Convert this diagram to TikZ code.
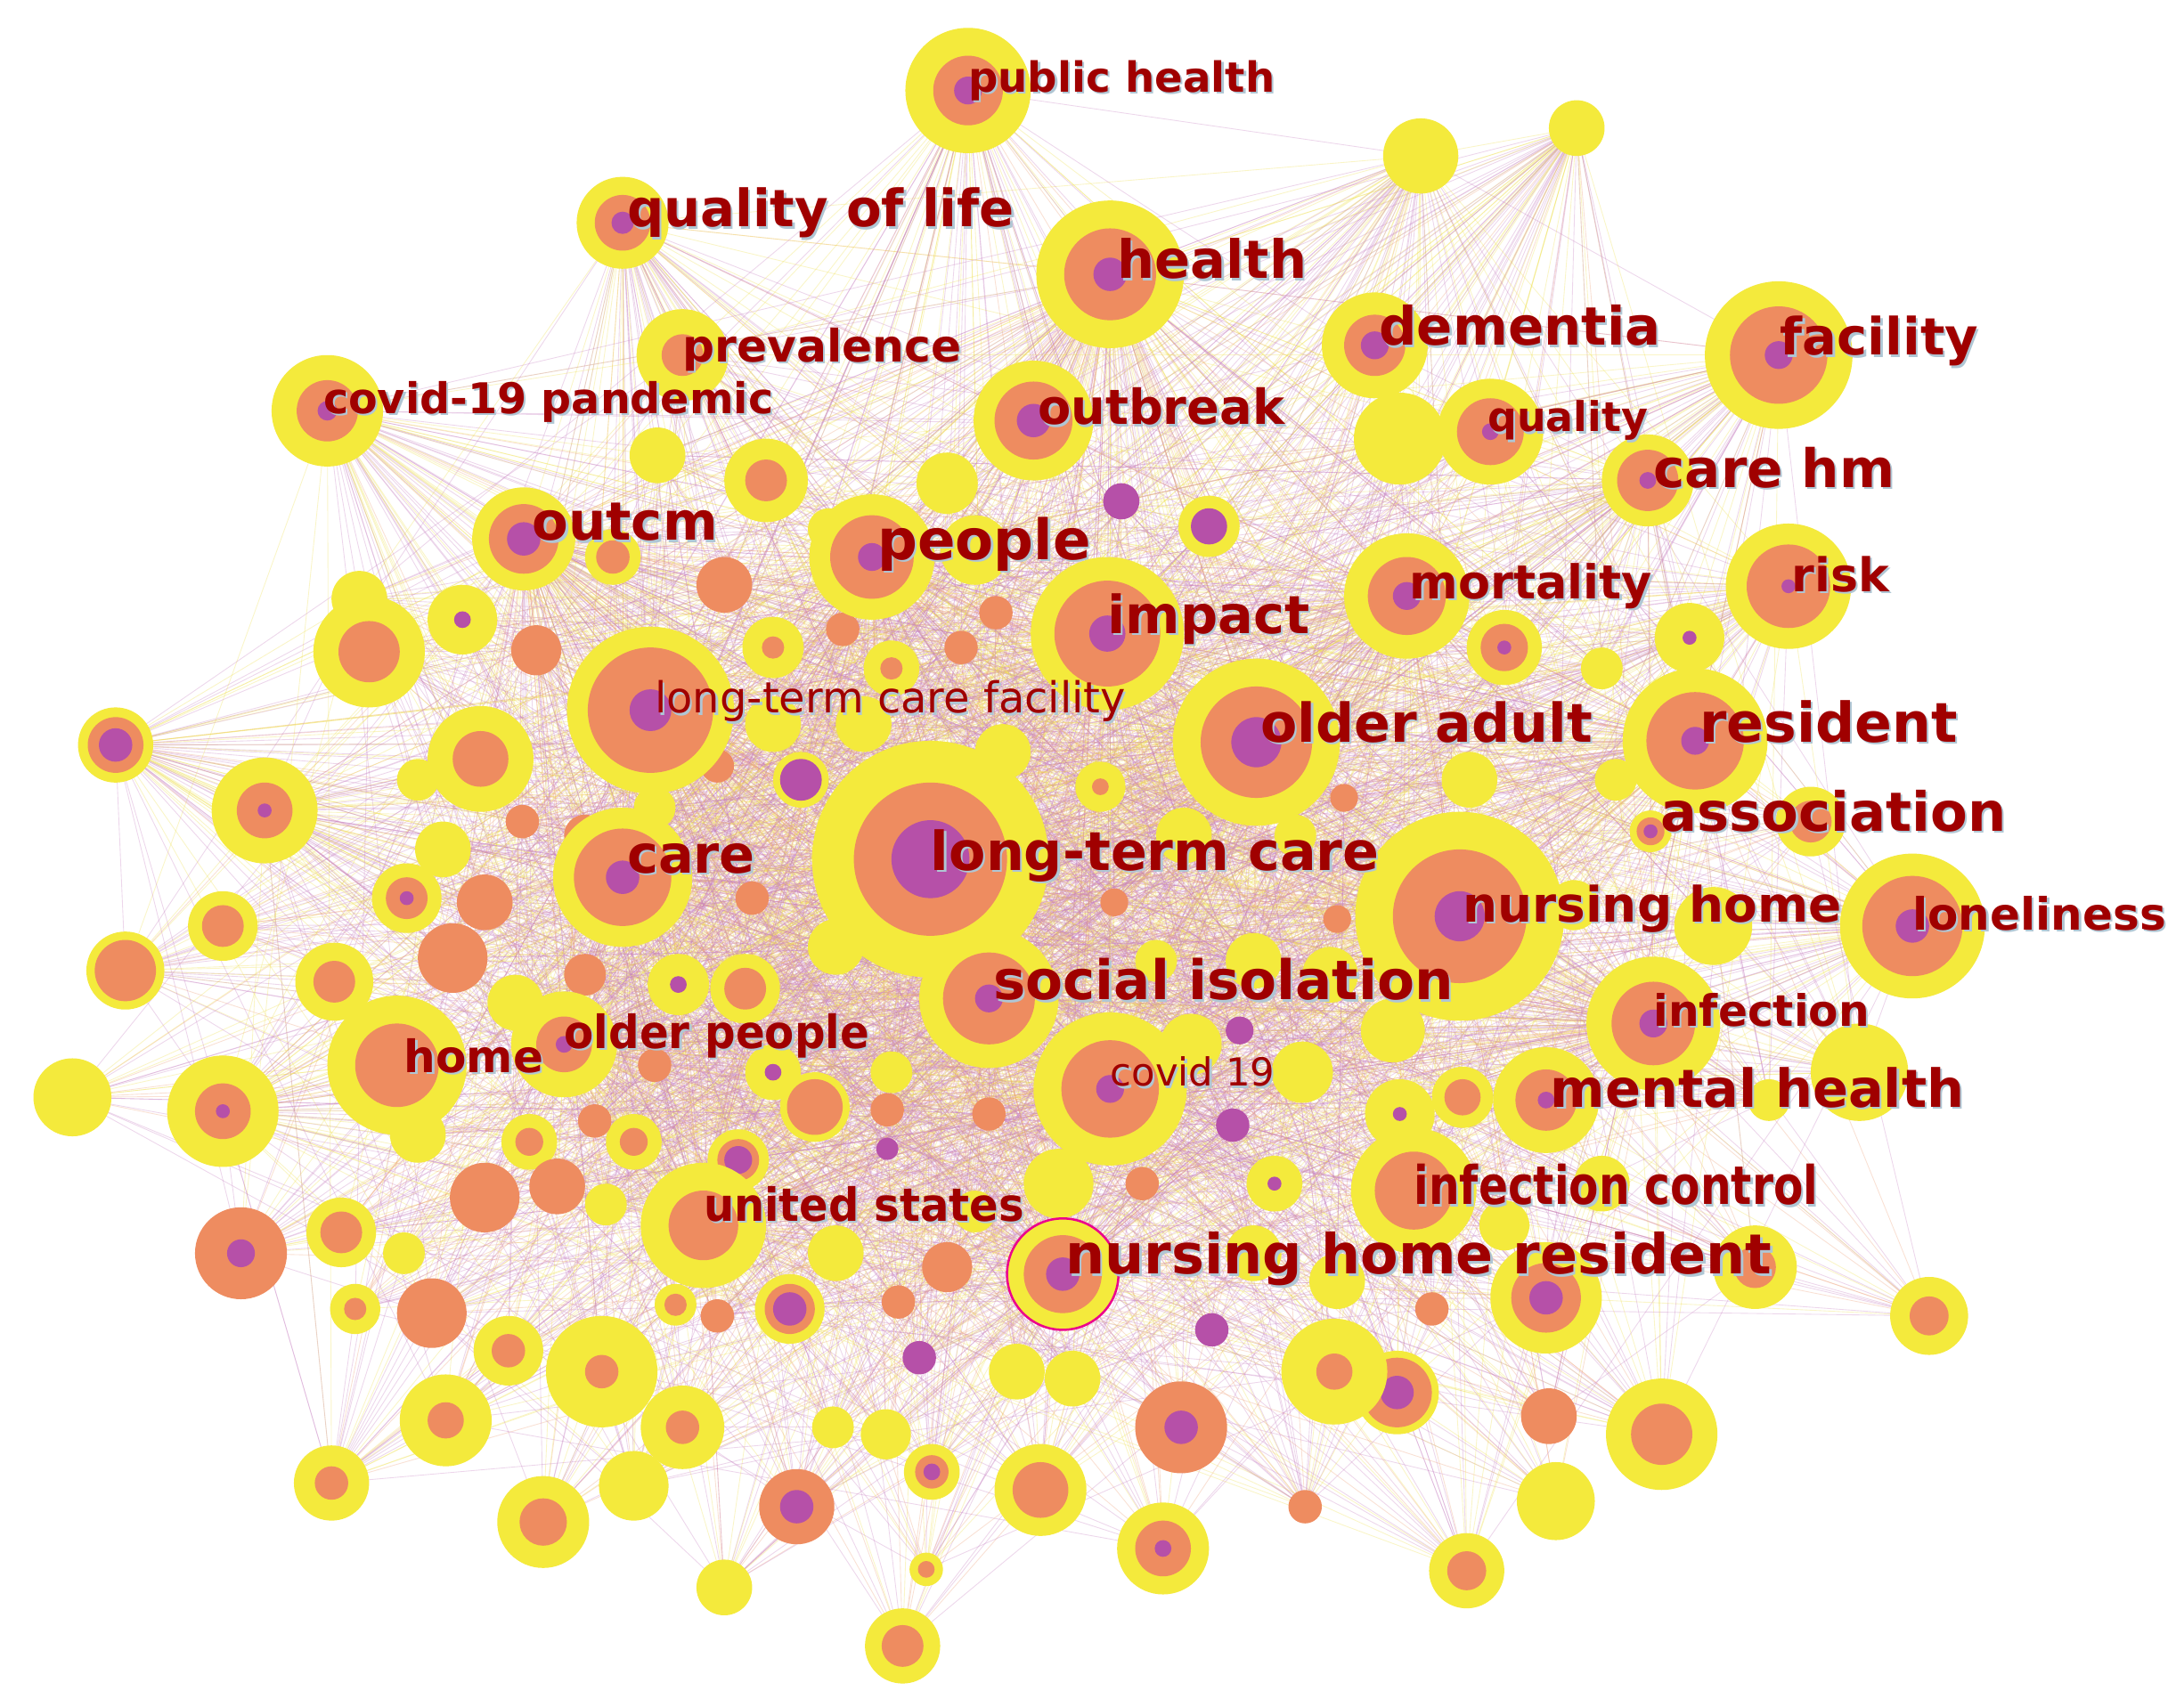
\documentclass[tikz,border=0pt]{standalone}
\usepackage{fontspec}
\setmainfont{DejaVu Sans}
\pgfdeclarelayer{paper}
\pgfdeclarelayer{edges}
\pgfsetlayers{paper,edges,main}
\definecolor{yel}{RGB}{244,234,60}
\definecolor{org}{RGB}{238,140,96}
\definecolor{pur}{RGB}{182,80,168}
\definecolor{lab}{RGB}{160,0,0}
\definecolor{shd}{RGB}{175,198,212}
\definecolor{epink}{RGB}{200,130,195}
\definecolor{eyel}{RGB}{240,226,80}
\definecolor{eorg}{RGB}{238,160,120}
\tikzset{
  kwnode/.style={circle,inner sep=0pt,outer sep=0pt},
  edge/.style={line width=0.55pt,opacity=0.32},
  lbl/.style={text=lab,inner sep=0pt,anchor=base west,font=\bfseries},
  lblshadow/.style={text=shd,inner sep=0pt,anchor=base west,font=\bfseries},
  hiring/.style={draw=magenta,line width=1.6pt}
}
\newcommand\kwbub[6]{%
  \pgfmathsetmacro\kwD{2*max(#4,#5,#6)}%
  \node[kwnode,minimum size=\kwD pt] (#1) at (#2,#3) {};
  \ifdim #4pt>0pt \fill[yel] (#1.center) circle (#4pt);\fi
  \ifdim #5pt>0pt \fill[org] (#1.center) circle (#5pt);\fi
  \ifdim #6pt>0pt \fill[pur] (#1.center) circle (#6pt);\fi
}
\newcommand\kwfit[3]{\ifdim #2pt>0pt \resizebox{#1pt}{#2pt}{#3}\else\resizebox{#1pt}{!}{#3}\fi}
\newcommand\kwlab[6]{%
  \node[lblshadow] at ({#2+1.5},{#3+1.5}) {\kwfit{#4}{#5}{#6}};
  \node[lbl] (#1) at (#2,#3) {\kwfit{#4}{#5}{#6}};
}
\begin{document}
\begin{tikzpicture}[x=1pt,y=-1pt]
\begin{pgfonlayer}{paper}
\fill[white] (0,0) rectangle (1568,1214);
\end{pgfonlayer}
\useasboundingbox (0,0) rectangle (1568,1214);
% unlabeled keyword nodes
\foreach \i/\X/\Y/\Ry/\Ro/\Rp in {
142/620/520/20/0/0, 143/720/540/20/0/0, 144/850/600/20/0/0, 145/930/600/15/0/0,
146/600/680/20/0/0, 147/900/690/20/0/0, 148/955/700/20/0/0, 149/830/690/15/0/0,
150/855/750/22/0/0, 151/935/770/22/0/0, 152/640/770/15/0/0, 153/760/850/25/0/0,
154/820/850/0/12/0, 155/700/870/15/0/0, 156/455/820/20/10/0, 157/380/820/20/10/0,
158/420/700/0/15/0, 159/370/720/20/0/0, 160/300/560/15/0/0, 161/700/395/25/0/0,
162/555/520/20/0/0, 163/640/480/20/8/0, 164/420/600/0/15/0, 165/1150/480/15/0/0,
166/1160/560/15/0/0, 167/1130/650/18/0/0, 168/1270/790/15/0/0, 169/1150/850/20/0/0,
170/1080/880/18/0/0, 171/900/900/20/0/0, 172/960/920/20/0/0,
33/1020/112/27/0/0, 34/1132/92/20/0/0, 35/1005/315/33/0/0, 36/472/327/20/0/0,
37/550/345/30/15/0, 38/680/347/22/0/0, 39/805/360/0/0/13, 40/868/378/22/0/13,
41/440/400/20/12/0, 42/520/420/0/20/0, 43/595/380/15/0/0, 44/715/440/0/12/0,
45/690/465/0/12/0, 46/605/452/0/12/0, 47/555/465/22/8/0, 48/385/467/0/18/0,
49/332/445/25/0/6, 51/258/430/20/0/0, 50/265/468/40/22/0, 52/83/535/27/20/12,
53/190/582/38/20/5, 54/345/545/38/20/0, 55/318/610/20/0/0, 56/292/645/25/15/5,
57/348/648/0/20/0, 58/375/590/0/12/0, 59/515/550/0/12/0, 60/575/560/20/0/15,
61/470/580/15/0/0, 62/540/645/0/12/0, 63/325/688/0/25/0, 64/240/705/28/15/0,
65/160/665/25/15/0, 66/90/697/28/22/0, 67/52/788/28/0/0, 68/160/798/40/20/5,
69/487/707/22/0/6, 70/535/710/25/15/0, 71/470/765/0/12/0, 72/555/770/20/0/6,
73/585/795/25/20/0, 74/530/833/22/15/10, 75/637/797/0/12/0, 76/637/825/0/0/8,
77/710/800/0/12/0, 78/427/805/0/12/0, 79/400/852/0/20/0, 80/348/860/0/25/0,
81/435/865/15/0/0, 82/300/815/20/0/0, 83/245/885/25/15/0, 84/173/900/0/33/10,
85/290/900/15/0/0, 86/255/940/18/8/0, 87/310/943/0/25/0, 88/365/970/25/12/0,
89/432/985/40/12/0, 90/485/937/15/8/0, 91/515/945/0/12/0, 92/567/940/25/18/12,
93/600/900/20/0/0, 94/645/935/0/12/0, 95/680/910/0/18/0, 96/660/975/0/0/12,
97/870/955/0/0/12, 98/885/808/0/0/12, 99/915/850/20/0/5, 100/890/740/0/0/10,
101/960/660/0/10/0, 102/800/648/0/10/0, 103/790/565/18/6/0, 104/1000/740/23/0/0,
105/965/573/0/10/0, 106/1055/560/20/0/0, 107/1080/465/27/17/5, 108/1213/458/25/0/5,
109/1300/590/25/15/0, 110/1230/665/28/0/0, 111/1335/770/35/0/0, 112/1005/800/25/0/5,
113/1050/788/22/13/0, 114/1110/932/40/25/12, 115/1260/910/30/15/0, 116/1385/945/28/14/0,
117/1193/1030/40/22/0, 118/1117/1078/28/0/0, 119/1112/1017/0/20/0, 120/1003/1000/30/25/12,
121/958/985/38/13/0, 122/1028/940/0/12/0, 123/937/1082/0/12/0, 124/848/1025/0/33/12,
125/835/1112/33/20/6, 126/747/1070/33/20/0, 127/770/990/20/0/0, 128/730/985/20/0/0,
129/669/1057/20/12/6, 130/665/1127/12/6/0, 131/648/1182/27/15/0, 132/572/1082/0/27/12,
133/520/1140/20/0/0, 134/490/1025/30/12/0, 135/455/1067/25/0/0, 136/390/1093/33/17/0,
137/320/1020/33/13/0, 138/238/1065/27/12/0, 139/598/1025/15/0/0, 140/636/1030/18/0/0,
141/1053/1128/27/14/0}
{\kwbub{n\i}{\X}{\Y}{\Ry}{\Ro}{\Rp}}
% labeled keyword nodes
\foreach \i/\X/\Y/\Ry/\Ro/\Rp in {
1/695/65/45/25/10, 2/447/160/33/20/8, 3/797/197/53/33/12, 4/987/248/38/22/10,
5/1277/255/53/35/10, 6/490/255/33/15/0, 7/235/295/40/22/7, 8/742/302/43/28/12,
9/1070/310/38/24/6, 10/1183/345/33/22/6, 11/376/387/37/25/12, 12/626/400/45/30/10,
13/1010/428/45/28/10, 14/1284/421/45/30/5, 15/795/455/55/38/13, 16/467/510/60/45/15,
17/902/533/60/40/18, 18/1217/532/52/35/10, 19/1185/597/15/10/5, 21/447/630/50/35/12,
20/668/617/85/55/28, 22/1048/658/75/48/18, 23/1373/665/52/36/12, 24/710/717/50/33/10,
25/1187/735/48/30/10, 26/285/765/50/30/0, 27/405/750/38/20/6, 28/797/782/55/35/10,
29/1110/790/38/22/6, 30/1015/855/45/28/0, 31/505/880/45/25/0, 32/763/915/40/28/12}
{\kwbub{n\i}{\X}{\Y}{\Ry}{\Ro}{\Rp}}
\draw[hiring] (n32.center) circle (40pt);
% connectors
\begin{pgfonlayer}{edges}
\foreach \h in {20,22,17,24,28,16,21,15,12,32,3,13,18,25,11,31,27}{
  \foreach \i in {1,...,172}{
    \pgfmathtruncatemacro\cc{mod(\i*7+\h,3)}
    \ifcase\cc \def\ec{epink}\or\def\ec{eyel}\or\def\ec{eorg}\fi
    \draw[edge,draw=\ec] (n\h.center) -- (n\i.center);
  }
}
\foreach \h in {2,7,33,34,5,1,52,53,68,23,14,10}{
  \foreach \i in {3,6,...,172}{
    \pgfmathtruncatemacro\cc{mod(\i+\h,2)}
    \ifcase\cc \def\ec{epink}\or\def\ec{eyel}\fi
    \draw[edge,draw=\ec] (n\h.center) -- (n\i.center);
  }
}
\pgfmathsetseed{42}
\foreach \k in {1,...,600}{
  \pgfmathrandominteger{\ea}{1}{172}
  \pgfmathrandominteger{\eb}{1}{172}
  \draw[edge,draw=epink] (n\ea.center) -- (n\eb.center);
}
\end{pgfonlayer}
% labels
\foreach \i/\X/\Y/\W/\H/\T in {
1/695/66/220/0/public health, 2/450/163/278/0/quality of life, 3/802/200/136/0/health,
4/990/248/202/0/dementia, 5/1278/255/142/0/facility, 6/490/260/200/0/prevalence,
7/232/297/323/0/covid-19 pandemic, 8/745/305/177/0/outbreak, 9/1068/310/115/0/quality,
10/1187/350/173/0/care hm, 11/382/388/133/0/outcm, 12/630/402/153/0/people,
13/1012/430/174/0/mortality, 14/1286/425/70/0/risk, 15/795/455/145/0/impact,
16/470/512/338/0/\mdseries long-term care facility, 17/905/533/238/0/older adult,
18/1220/533/185/0/resident, 19/1192/597/248/0/association, 20/668/625/322/0/long-term care,
21/450/627/92/0/care, 22/1050/662/272/0/nursing home, 23/1373/668/182/0/loneliness,
24/713/718/330/0/social isolation, 25/1187/737/155/0/infection, 26/290/770/100/0/home,
27/405/753/219/25/older people, 28/797/780/118/0/\mdseries covid 19,
29/1113/795/297/0/mental health, 30/1015/865/290/29/infection control,
31/505/877/230/25/united states, 32/765/915/507/0/nursing home resident}
{\kwlab{t\i}{\X}{\Y}{\W}{\H}{\T}}
\end{tikzpicture}
\end{document}
